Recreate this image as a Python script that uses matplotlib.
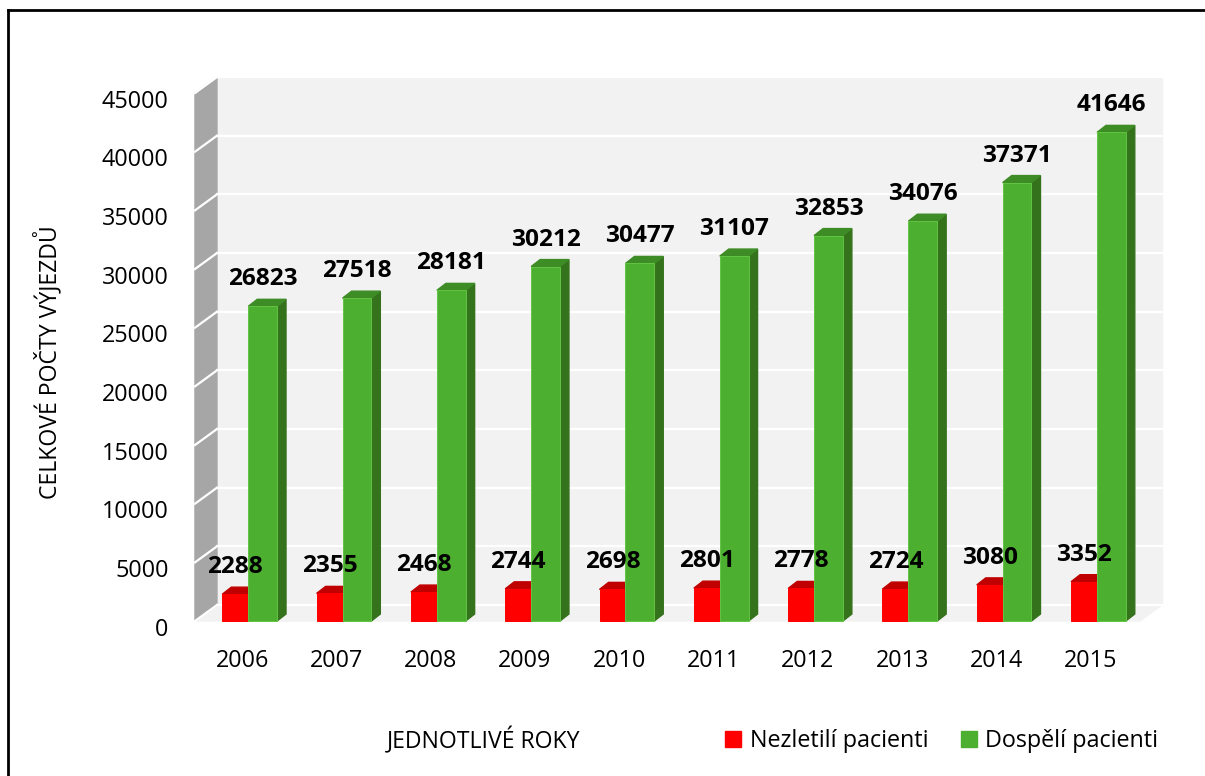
import matplotlib.pyplot as plt
import matplotlib.transforms as mtransforms
from matplotlib.patches import Polygon, Rectangle, Patch
from matplotlib.lines import Line2D

years = ["2006", "2007", "2008", "2009", "2010", "2011", "2012", "2013", "2014", "2015"]
nezletili = [2288, 2355, 2468, 2744, 2698, 2801, 2778, 2724, 3080, 3352]
dospeli = [26823, 27518, 28181, 30212, 30477, 31107, 32853, 34076, 37371, 41646]
y_ticks = list(range(0, 45001, 5000))

plt.rcParams['font.family'] = ['Open Sans', 'DejaVu Sans']

RED, RED_TOP = "#ff0000", "#c00000"
GREEN, GREEN_SIDE, GREEN_TOP = "#4daf30", "#35721c", "#3e8c26"
WALL, SIDE_WALL = "#f2f2f2", "#a6a6a6"

fig = plt.figure(figsize=(12.05, 7.76), dpi=100)
ax = fig.add_axes([0.1618, 0.1997, 0.7842, 0.6804])
xmin, xmax = -0.5, 9.52
ymax = 45000
ax.set_xlim(xmin, xmax)
ax.set_ylim(0, ymax)
for s in ax.spines.values():
    s.set_visible(False)
ax.patch.set_visible(False)

# pixel -> data conversions for the fake 3D depth
W, H = fig.get_size_inches() * fig.dpi
px_x = 0.7842 * W / (xmax - xmin)
px_y = 0.6804 * H / ymax
wdx, wdy = 22 / px_x, 16 / px_y      # walls
bdx, bdy = 9 / px_x, 7 / px_y        # bars

# back wall, floor, side wall
ax.add_patch(Rectangle((xmin + wdx, wdy), xmax - xmin, ymax, color=WALL, clip_on=False, zorder=0))
ax.add_patch(Polygon([(xmin, 0), (xmax, 0), (xmax + wdx, wdy), (xmin + wdx, wdy)],
                     color=WALL, clip_on=False, zorder=0))
ax.add_patch(Polygon([(xmin, 0), (xmin + wdx, wdy), (xmin + wdx, ymax + wdy), (xmin, ymax)],
                     color=SIDE_WALL, clip_on=False, zorder=0))
for v in y_ticks:
    ax.plot([xmin + wdx, xmax + wdx], [v + wdy, v + wdy], color="white", lw=1.6,
            clip_on=False, zorder=1)
    ax.plot([xmin, xmin + wdx], [v, v + wdy], color="white", lw=1.6, clip_on=False, zorder=1)


def bar3d(x0, w, h, front, side, top, z, edge=None):
    x1 = x0 + w
    ax.add_patch(Polygon([(x1, 0), (x1 + bdx, bdy), (x1 + bdx, h + bdy), (x1, h)],
                         color=side, zorder=z, clip_on=False))
    ax.add_patch(Polygon([(x0, h), (x1, h), (x1 + bdx, h + bdy), (x0 + bdx, h + bdy)],
                         color=top, zorder=z, clip_on=False))
    ax.add_patch(Rectangle((x0, 0), w, h, facecolor=front, edgecolor=edge or front, lw=0.7,
                           zorder=z, clip_on=False))


w = 0.305
for i in range(len(years)):
    rx = i - 0.21
    gx = i + 0.065
    bar3d(rx, w, nezletili[i], RED, "#b00000", RED_TOP, 2)
    bar3d(gx, w, dospeli[i], GREEN, GREEN_SIDE, GREEN_TOP, 3, edge="#62c443")
    ax.annotate(str(nezletili[i]), (rx + (gx - rx) / 2, nezletili[i]), xytext=(0, 27),
                textcoords="offset pixels", ha="center", va="center",
                fontsize=17.6, fontweight="bold", zorder=5)
    ax.annotate(str(dospeli[i]), (gx + w / 2, dospeli[i]), xytext=(0, 27),
                textcoords="offset pixels", ha="center", va="center",
                fontsize=17.6, fontweight="bold", zorder=5)

ax.set_xticks(range(len(years)))
ax.set_xticklabels(years)
ax.set_yticks(y_ticks)
ax.set_yticklabels([str(v) for v in y_ticks])
ax.tick_params(axis="both", length=0, labelsize=16.8)
ax.tick_params(axis="y", pad=19)
ax.tick_params(axis="x", pad=20)
shift = mtransforms.ScaledTranslation(0, -4 / 72, fig.dpi_scale_trans)
for lab in ax.get_yticklabels():
    lab.set_transform(lab.get_transform() + shift)

fig.text(48 / W, 1 - 362 / H, "CELKOVÉ POČTY VÝJEZDŮ", rotation=90, ha="center", va="center",
         fontsize=16.6)
fig.text(484 / W, 1 - 741 / H, "JEDNOTLIVÉ ROKY", ha="center", va="center", fontsize=16.6)

handles = [Patch(color=RED), Patch(color=GREEN)]
fig.legend(handles, ["Nezletilí pacienti", "Dospělí pacienti"], loc="center left",
           bbox_to_anchor=(725 / W, 1 - 741 / H), ncol=2, frameon=False, fontsize=16.8,
           handlelength=0.7, handleheight=0.7, handletextpad=0.35, columnspacing=1.4,
           borderpad=0, borderaxespad=0)

# outer frame (top and left edges)
fig.add_artist(Line2D([8 / W, 1], [1 - 10 / H, 1 - 10 / H], color="black", lw=2))
fig.add_artist(Line2D([8 / W, 8 / W], [0, 1 - 10 / H], color="black", lw=2))

fig.savefig("out.png", dpi=100)
